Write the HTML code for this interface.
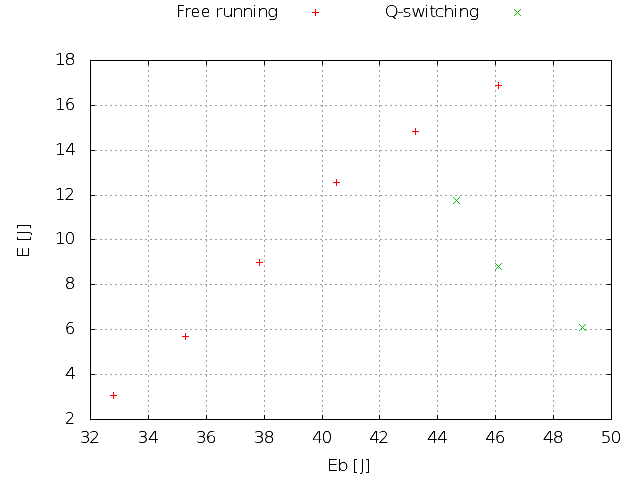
<!DOCTYPE html>
<html lang="en">
<head>
<meta charset="utf-8">
<title>Free running and Q-switching: E [J] vs Eb [J]</title>
<style>
html,body{margin:0;padding:0;background:#fff;}
body{width:640px;height:480px;overflow:hidden;}
svg{display:block;}
text{font-family:"DejaVu Sans","Liberation Sans",sans-serif;font-size:16px;font-weight:200;fill:#000;stroke:#000;white-space:pre;}
</style>
</head>
<body>
<svg width="640" height="480" viewBox="0 0 640 480">
<rect x="0" y="0" width="640" height="480" fill="#fff"/>
<g shape-rendering="crispEdges">
<!-- dotted grid: 2px on / 3px off -->
<g stroke="#a0a0a0" stroke-width="1" stroke-dasharray="2 3" fill="none">
<line x1="148.5" y1="60" x2="148.5" y2="419"/>
<line x1="206.5" y1="60" x2="206.5" y2="419"/>
<line x1="264.5" y1="60" x2="264.5" y2="419"/>
<line x1="322.5" y1="60" x2="322.5" y2="419"/>
<line x1="379.5" y1="60" x2="379.5" y2="419"/>
<line x1="437.5" y1="60" x2="437.5" y2="419"/>
<line x1="495.5" y1="60" x2="495.5" y2="419"/>
<line x1="553.5" y1="60" x2="553.5" y2="419"/>
<line x1="90" y1="374.5" x2="611" y2="374.5"/>
<line x1="90" y1="329.5" x2="611" y2="329.5"/>
<line x1="90" y1="284.5" x2="611" y2="284.5"/>
<line x1="90" y1="239.5" x2="611" y2="239.5"/>
<line x1="90" y1="195.5" x2="611" y2="195.5"/>
<line x1="90" y1="150.5" x2="611" y2="150.5"/>
<line x1="90" y1="105.5" x2="611" y2="105.5"/>
</g>
<!-- border and tick marks -->
<g fill="#000">
<rect x="90" y="60" width="522" height="1"/>
<rect x="90" y="419" width="522" height="1"/>
<rect x="90" y="60" width="1" height="360"/>
<rect x="611" y="60" width="1" height="360"/>
<rect x="148" y="60" width="1" height="5"/><rect x="148" y="415" width="1" height="5"/>
<rect x="206" y="60" width="1" height="5"/><rect x="206" y="415" width="1" height="5"/>
<rect x="264" y="60" width="1" height="5"/><rect x="264" y="415" width="1" height="5"/>
<rect x="322" y="60" width="1" height="5"/><rect x="322" y="415" width="1" height="5"/>
<rect x="379" y="60" width="1" height="5"/><rect x="379" y="415" width="1" height="5"/>
<rect x="437" y="60" width="1" height="5"/><rect x="437" y="415" width="1" height="5"/>
<rect x="495" y="60" width="1" height="5"/><rect x="495" y="415" width="1" height="5"/>
<rect x="553" y="60" width="1" height="5"/><rect x="553" y="415" width="1" height="5"/>
<rect x="90" y="374" width="5" height="1"/><rect x="607" y="374" width="5" height="1"/>
<rect x="90" y="329" width="5" height="1"/><rect x="607" y="329" width="5" height="1"/>
<rect x="90" y="284" width="5" height="1"/><rect x="607" y="284" width="5" height="1"/>
<rect x="90" y="239" width="5" height="1"/><rect x="607" y="239" width="5" height="1"/>
<rect x="90" y="195" width="5" height="1"/><rect x="607" y="195" width="5" height="1"/>
<rect x="90" y="150" width="5" height="1"/><rect x="607" y="150" width="5" height="1"/>
<rect x="90" y="105" width="5" height="1"/><rect x="607" y="105" width="5" height="1"/>
</g>
<!-- series 1: plus markers -->
<g fill="#ff0000">
<rect x="312" y="12" width="7" height="1"/><rect x="315" y="9" width="1" height="7"/>
<rect x="110" y="395" width="7" height="1"/><rect x="113" y="392" width="1" height="7"/>
<rect x="182" y="336" width="7" height="1"/><rect x="185" y="333" width="1" height="7"/>
<rect x="256" y="262" width="7" height="1"/><rect x="259" y="259" width="1" height="7"/>
<rect x="333" y="182" width="7" height="1"/><rect x="336" y="179" width="1" height="7"/>
<rect x="412" y="131" width="7" height="1"/><rect x="415" y="128" width="1" height="7"/>
<rect x="495" y="85" width="7" height="1"/><rect x="498" y="82" width="1" height="7"/>
</g>
<!-- series 2: cross markers -->
<g fill="#00c000">
<rect x="514" y="9" width="1" height="1"/><rect x="514" y="15" width="1" height="1"/><rect x="515" y="10" width="1" height="1"/><rect x="515" y="14" width="1" height="1"/><rect x="516" y="11" width="1" height="1"/><rect x="516" y="13" width="1" height="1"/><rect x="517" y="12" width="1" height="1"/><rect x="518" y="13" width="1" height="1"/><rect x="518" y="11" width="1" height="1"/><rect x="519" y="14" width="1" height="1"/><rect x="519" y="10" width="1" height="1"/><rect x="520" y="15" width="1" height="1"/><rect x="520" y="9" width="1" height="1"/>
<rect x="453" y="197" width="1" height="1"/><rect x="453" y="203" width="1" height="1"/><rect x="454" y="198" width="1" height="1"/><rect x="454" y="202" width="1" height="1"/><rect x="455" y="199" width="1" height="1"/><rect x="455" y="201" width="1" height="1"/><rect x="456" y="200" width="1" height="1"/><rect x="457" y="201" width="1" height="1"/><rect x="457" y="199" width="1" height="1"/><rect x="458" y="202" width="1" height="1"/><rect x="458" y="198" width="1" height="1"/><rect x="459" y="203" width="1" height="1"/><rect x="459" y="197" width="1" height="1"/>
<rect x="495" y="263" width="1" height="1"/><rect x="495" y="269" width="1" height="1"/><rect x="496" y="264" width="1" height="1"/><rect x="496" y="268" width="1" height="1"/><rect x="497" y="265" width="1" height="1"/><rect x="497" y="267" width="1" height="1"/><rect x="498" y="266" width="1" height="1"/><rect x="499" y="267" width="1" height="1"/><rect x="499" y="265" width="1" height="1"/><rect x="500" y="268" width="1" height="1"/><rect x="500" y="264" width="1" height="1"/><rect x="501" y="269" width="1" height="1"/><rect x="501" y="263" width="1" height="1"/>
<rect x="579" y="324" width="1" height="1"/><rect x="579" y="330" width="1" height="1"/><rect x="580" y="325" width="1" height="1"/><rect x="580" y="329" width="1" height="1"/><rect x="581" y="326" width="1" height="1"/><rect x="581" y="328" width="1" height="1"/><rect x="582" y="327" width="1" height="1"/><rect x="583" y="328" width="1" height="1"/><rect x="583" y="326" width="1" height="1"/><rect x="584" y="329" width="1" height="1"/><rect x="584" y="325" width="1" height="1"/><rect x="585" y="330" width="1" height="1"/><rect x="585" y="324" width="1" height="1"/>
</g>
</g>
<!-- labels: per-glyph x positions, per-word horizontal glyph scale (textLength); the filter steepens the anti-aliasing ramp to mimic pixel-hinted type -->
<defs><filter id="crisp" filterUnits="userSpaceOnUse" x="0" y="0" width="640" height="480" color-interpolation-filters="sRGB"><feComponentTransfer><feFuncA type="linear" slope="1.6" intercept="-0.2"/></feComponentTransfer></filter></defs>
<g filter="url(#crisp)">
<text y="424" x="64.75" stroke-width="0.08" textLength="10.315" lengthAdjust="spacingAndGlyphs">2</text>
<text y="379" x="65" stroke-width="0.13" textLength="11.079" lengthAdjust="spacingAndGlyphs">4</text>
<text y="334" x="64.75" stroke-width="0.13" textLength="10.570" lengthAdjust="spacingAndGlyphs">6</text>
<text y="289" x="64.5" stroke-width="0.16" textLength="11.079" lengthAdjust="spacingAndGlyphs">8</text>
<text y="244" x="54.75 64.5" stroke-width="0.05" textLength="21.903" lengthAdjust="spacingAndGlyphs">10</text>
<text y="200" x="55 64.5" stroke-width="0.16" textLength="20.630" lengthAdjust="spacingAndGlyphs">12</text>
<text y="155" x="55 65.25" stroke-width="0.13" textLength="21.394" lengthAdjust="spacingAndGlyphs">14</text>
<text y="110" x="55 64.75" stroke-width="0.14" textLength="21.139" lengthAdjust="spacingAndGlyphs">16</text>
<text y="65" x="54.5 64.25" stroke-width="0.13" textLength="23.177" lengthAdjust="spacingAndGlyphs">18</text>
<text y="443" x="79.75 89" stroke-width="0.12" textLength="21.903" lengthAdjust="spacingAndGlyphs">32</text>
<text y="443" x="137.5 148" stroke-width="0.13" textLength="22.158" lengthAdjust="spacingAndGlyphs">34</text>
<text y="443" x="195.75 205.5" stroke-width="0.12" textLength="22.158" lengthAdjust="spacingAndGlyphs">36</text>
<text y="443" x="253.5 263.5" stroke-width="0.13" textLength="22.667" lengthAdjust="spacingAndGlyphs">38</text>
<text y="443" x="312 321.5" stroke-width="0.09" textLength="21.903" lengthAdjust="spacingAndGlyphs">40</text>
<text y="443" x="369.25 378.25" stroke-width="0.13" textLength="21.394" lengthAdjust="spacingAndGlyphs">42</text>
<text y="443" x="427 437" stroke-width="0.13" textLength="22.158" lengthAdjust="spacingAndGlyphs">44</text>
<text y="443" x="485.25 494.75" stroke-width="0.13" textLength="21.394" lengthAdjust="spacingAndGlyphs">46</text>
<text y="443" x="542.75 552.5" stroke-width="0.13" textLength="22.922" lengthAdjust="spacingAndGlyphs">48</text>
<text y="443" x="600.5 610.5" stroke-width="0.12" textLength="22.158" lengthAdjust="spacingAndGlyphs">50</text>
<text y="471"><tspan x="326.75 337" stroke-width="0.16" textLength="23.305" lengthAdjust="spacingAndGlyphs">Eb</tspan> <tspan x="352.25 360 364.25" stroke-width="0.14" textLength="17.434" lengthAdjust="spacingAndGlyphs">[J]</tspan></text>
<text y="17"><tspan x="176.5 184.5 190.75 201" stroke-width="0.24" textLength="32.809" lengthAdjust="spacingAndGlyphs">Free</tspan> <tspan x="215 222 232 242 252 257 267" stroke-width="0.04" textLength="71.914" lengthAdjust="spacingAndGlyphs">running</tspan></text>
<text y="17" x="384.5 397.25 402.25 411.25 424 429.25 434.5 443.25 453 458.25 468.5" stroke-width="0.08" textLength="106.570" lengthAdjust="spacingAndGlyphs">Q-switching</text>
<text transform="translate(29,0) rotate(-90)" y="0"><tspan x="-258.25" stroke-width="0.24" textLength="11.879" lengthAdjust="spacingAndGlyphs">E</tspan> <tspan x="-241.75 -235 -229.75" stroke-width="0.13" textLength="17.649" lengthAdjust="spacingAndGlyphs">[J]</tspan></text>
</g>
</svg>
</body>
</html>
